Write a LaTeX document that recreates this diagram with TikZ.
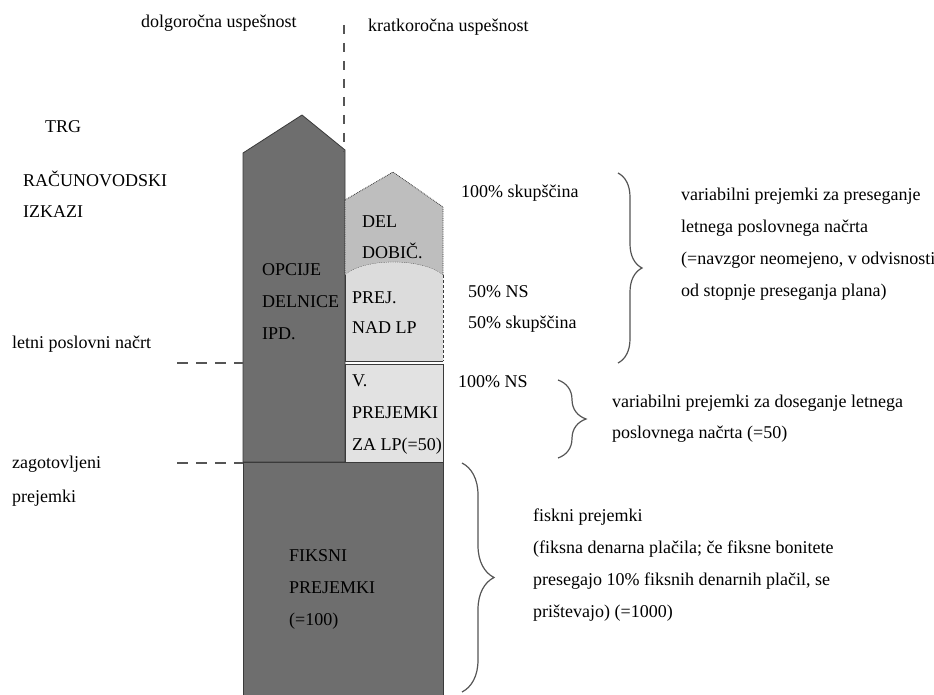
\documentclass[tikz,border=0pt]{standalone}
\usepackage{fontspec}
\setmainfont{Liberation Serif}
\usepackage{xcolor}
\definecolor{deep}{HTML}{6E6E6E}
\definecolor{mid}{HTML}{BEBEBE}
\definecolor{pale}{HTML}{DCDCDC}
\definecolor{paler}{HTML}{E2E2E2}
\definecolor{ink}{HTML}{3A3A3A}
\definecolor{rule}{HTML}{555555}
\usepackage{tikz}
\usetikzlibrary{positioning,decorations.pathreplacing}
\tikzset{
  lab/.style={font=\fontsize{18}{32}\selectfont,align=left,inner sep=0pt,anchor=base west},
  block/.style={draw=ink,line width=0.8pt},
  level/.style={draw=rule,line width=2.4pt,dash pattern=on 11pt off 8pt},
  brc/.style={draw=rule,line width=1.2pt,decorate,decoration={brace,amplitude=#1}},
}

\begin{document}
\begin{tikzpicture}[x=1pt,y=-1pt]
\useasboundingbox (0,0) rectangle (934,695);

\fill[deep,block] (243,153) -- (302,115) -- (345,150) -- (345,462) -- (243,462) -- cycle;
\fill[mid,draw=ink,line width=0.8pt,densely dotted] (345,200) -- (393,172) -- (443,207) -- (443,275)
  .. controls (421,258) and (365,258) .. (345,275) -- cycle;
\fill[pale] (345,275) .. controls (365,258) and (421,258) .. (443,275) -- (443,361) -- (345,361) -- cycle;
\draw[ink,line width=0.8pt,densely dashed] (443,275) -- (443,361);
\draw[ink,line width=0.8pt] (345,275) -- (345,361) -- (443,361);
\filldraw[paler,block] (345,364) rectangle (443,462);
\filldraw[deep,block] (243,462) rectangle (443,695);

\draw[level,dash pattern=on 9pt off 9pt] (344,25) -- (344,152);
\draw[level] (177,363) -- (243,363);
\draw[level] (177,463) -- (243,463);

\node[lab] (dolg) at (141,28) {dolgoročna uspešnost};
\node[lab] (krat) at (368,32) {kratkoročna uspešnost};
\node[lab] (trg) at (45,133) {TRG};
\node[lab] (racun) at (23,218) {RAČUNOVODSKI\\IZKAZI};
\node[lab] (letni) at (12,348) {letni poslovni načrt};
\node[lab] (zagot) at (12,502) {zagotovljeni\\[2pt]prejemki};

\node[lab] (opcije) at (262,339) {OPCIJE\\DELNICE\\IPD.};
\node[lab] (dobic) at (362,258) {DEL\\[-1pt]DOBIČ.};
\node[lab] (nadlp) at (352,333) {PREJ.\\[-2pt]NAD LP};
\node[lab] (zalp) at (352,450) {V.\\PREJEMKI\\ZA LP(=50)};
\node[lab] (fiksni) at (289,625) {FIKSNI\\PREJEMKI\\(=100)};

\node[lab] (sk100) at (461,198) {100\% skupščina};
\node[lab] (ns50) at (468,328) {50\% NS\\[-1pt]50\% skupščina};
\node[lab] (ns100) at (458,387) {100\% NS};

\draw[brc=24pt] (618,173) -- (618,363);
\draw[brc=28pt] (558,380) -- (558,458);
\draw[brc=32pt] (462,463) -- (462,692);

\node[lab] (var1) at (681,296) {variabilni prejemki za preseganje\\letnega poslovnega načrta\\(=navzgor neomejeno, v odvisnosti\\od stopnje preseganja plana)};
\node[lab] (var2) at (612,438) {variabilni prejemki za doseganje letnega\\[-1pt]poslovnega načrta (=50)};
\node[lab] (fix) at (533,617) {fiskni prejemki\\(fiksna denarna plačila; če fiksne bonitete\\presegajo 10\% fiksnih denarnih plačil, se\\prištevajo) (=1000)};
\end{tikzpicture}
\end{document}
